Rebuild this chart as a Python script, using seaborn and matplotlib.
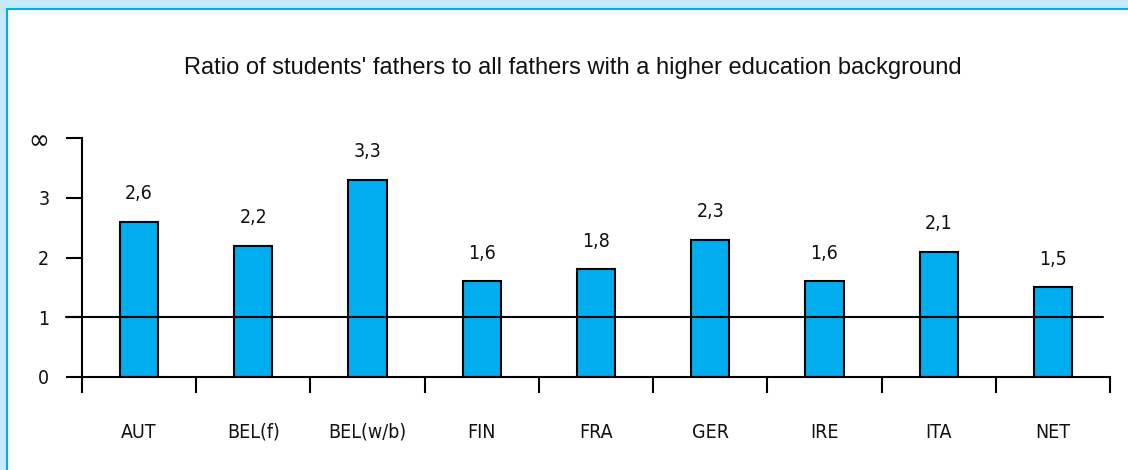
import matplotlib
matplotlib.use("Agg")
import matplotlib.pyplot as plt
from matplotlib import font_manager
from matplotlib.patches import Rectangle
import seaborn as sns
import pandas as pd

categories = ["AUT", "BEL(f)", "BEL(w/b)", "FIN", "FRA", "GER", "IRE", "ITA", "NET"]
values = [2.6, 2.2, 3.3, 1.6, 1.8, 2.3, 1.6, 2.1, 1.5]
value_labels = ["2,6", "2,2", "3,3", "1,6", "1,8", "2,3", "1,6", "2,1", "1,5"]
ytick_values = [0, 1, 2, 3, 4]
ytick_labels = ["0", "1", "2", "3", "\u221e"]
title = "Ratio of students' fathers to all fathers with a higher education background"

sns.set_theme(style="white")
plt.rcParams["font.family"] = ["DejaVu Sans"]
plt.rcParams["font.stretch"] = "condensed"

W, H = 1128, 470
fig = plt.figure(figsize=(W / 100, H / 100), dpi=100)
fig.patch.set_facecolor("#c6e9f8")
fig.patches.append(Rectangle((7 / W, -0.05), 1.2, 1 - 9 / H + 0.05, transform=fig.transFigure,
                             facecolor="white", edgecolor="#00aeef", linewidth=1.5, zorder=-5))

ax = fig.add_axes([82 / W, 1 - 377 / H, (1110 - 82) / W, (377 - 138) / H])
ax.set_zorder(2)
ax.set_facecolor("none")
df = pd.DataFrame({"country": categories, "value": values})
sns.barplot(data=df, x="country", y="value", color="#00aeef", edgecolor="black",
            linewidth=1.5, width=0.335, saturation=1, ax=ax, zorder=2)

ax.set_xlim(-0.5, len(categories) - 0.5)
ax.set_ylim(0, 4)
for s in ["top", "right"]:
    ax.spines[s].set_visible(False)
for s in ["left", "bottom"]:
    ax.spines[s].set_linewidth(1.5)
    ax.spines[s].set_color("black")

ax.set_yticks(ytick_values)
ax.set_yticklabels(ytick_labels, fontsize=14, color="#111111")
ax.get_yticklabels()[-1].set_fontsize(20)
ax.tick_params(axis="y", direction="out", length=11.5, width=1.5, pad=12, color="black", left=True)

ax.set_xticks(range(len(categories)))
ax.set_xticklabels(categories, fontsize=14, color="#111111")
ax.tick_params(axis="x", which="major", length=0, pad=33)
ax.set_xticks([i - 0.5 for i in range(len(categories) + 1)], minor=True)
ax.tick_params(axis="x", which="minor", direction="out", length=11.5, width=1.5, color="black", bottom=True)
ax.spines["left"].set_bounds(0, 4)

ax.axhline(1, xmin=-16 / 1028, xmax=(1103 - 82) / 1028, color="black", lw=1.5, clip_on=False, zorder=3)

for i, (v, lab) in enumerate(zip(values, value_labels)):
    ax.annotate(lab, (i, v), xytext=(0, 28), textcoords="offset pixels",
                ha="center", va="center", fontsize=14, color="#111111")

ax.set_xlabel("")
ax.set_ylabel("")
fig.text(573 / W, 1 - 68 / H, title, ha="center", va="center", fontsize=17,
         family=["Liberation Sans", "DejaVu Sans"], stretch="normal", color="#111111")

fig.savefig("out.png", dpi=100)
